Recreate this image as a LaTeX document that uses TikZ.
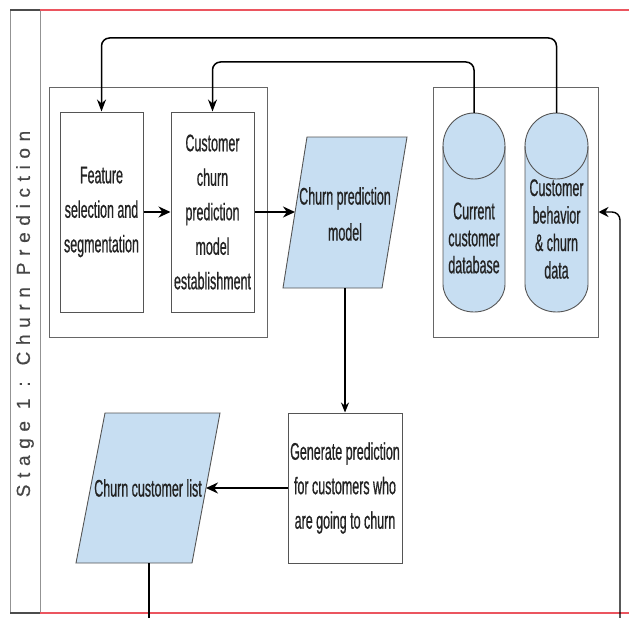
\documentclass[tikz,border=0pt]{standalone}
\usepackage{fontspec}
\setmainfont{Liberation Sans}
\newfontfamily\nf[FakeStretch=0.52,FakeBold=0.6]{Liberation Sans}
\newfontfamily\stagefont[LetterSpace=35,FakeBold=0.4]{Liberation Sans}
\usetikzlibrary{arrows.meta}
\definecolor{fillblue}{RGB}{199,222,242}
\definecolor{lanered}{RGB}{235,85,95}
\definecolor{txt}{RGB}{35,35,35}
\definecolor{edge}{RGB}{85,85,85}
\tikzset{
  grp/.style={draw=edge!90, line width=1pt, inner sep=0pt},
  procbox/.style={draw=edge, line width=1pt, fill=white, align=center, inner sep=0pt,
    font=\nf\fontsize{24}{34.5}\selectfont, text=txt},
  lbl/.style={align=center, inner sep=0pt, text=txt},
  shapefill/.style={draw=edge, line width=0.9pt, fill=fillblue},
  arr/.style={-{Stealth[length=12pt,width=11pt]}, line width=2pt, black},
  toparr/.style={-{Stealth[length=12pt,width=9pt]}, line width=1.5pt, black, rounded corners=8pt},
  thinarr/.style={-{Stealth[length=10pt,width=8pt]}, line width=1.1pt, black},
  plain/.style={line width=1.1pt, black},
  lanegray/.style={draw=gray!85, line width=1pt},
  lanedark/.style={draw=gray!60!black, line width=2pt},
  lanered/.style={draw=lanered, line width=2pt}
}
\begin{document}
\begin{tikzpicture}[x=1pt,y=1pt]
\useasboundingbox (0,0) rectangle (629,-618);
% lane frame
\draw[lanegray] (10,-10) -- (10,-613);
\draw[lanegray] (40,-10) -- (40,-613);
\draw[lanedark] (10,-10) -- (40,-10);
\draw[lanedark] (10,-613) -- (40,-613);
\draw[lanered] (40,-10) -- (629,-10);
\draw[lanered] (40,-613) -- (629,-613);
\node[rotate=90, text=gray!55!black, inner sep=0pt] (stage) at (25,-314)
  {\stagefont\fontsize{19}{21}\selectfont Stage 1 : Churn Prediction};

% group boxes
\node[grp, minimum width=218pt, minimum height=250pt] (lgrp) at (158,-212) {};
\node[grp, minimum width=165pt, minimum height=250pt] (rgrp) at (515.5,-212) {};

% process boxes
\node[procbox, minimum width=83pt, minimum height=200pt] (feat) at (101.5,-212)
  {Feature\\selection and\\segmentation};
\node[procbox, minimum width=83pt, minimum height=200pt] (cust) at (212.5,-212)
  {Customer\\churn\\prediction\\model\\establishment};
\node[procbox, minimum width=114pt, minimum height=150pt] (gen) at (345,-488)
  {Generate prediction\\for customers who\\are going to churn};

% parallelogram: churn prediction model
\draw[shapefill] (307,-137) -- (407,-137) -- (382,-288) -- (283,-288) -- cycle;
\node[lbl, font=\nf\fontsize{24}{36}\selectfont] (pm) at (345,-214) {Churn prediction\\model};
\coordinate (pmin) at (295,-212);
\coordinate (pmbot) at (345,-288);

% parallelogram: churn customer list
\draw[shapefill] (105,-413) -- (220,-413) -- (192,-563) -- (76,-563) -- cycle;
\node[lbl, font=\nf\fontsize{24}{30}\selectfont] (cl) at (148,-488) {Churn customer list};
\coordinate (clin) at (206,-488);
\coordinate (clbot) at (149,-563);
\coordinate (clend) at (149,-618);

% cylinders
\draw[shapefill] (443,-146) -- (443,-284) arc[start angle=180,end angle=360,x radius=31,y radius=28]
  -- (505,-146) arc[start angle=0,end angle=180,x radius=31,y radius=33] -- cycle;
\draw[draw=edge, line width=0.9pt] (443,-146) arc[start angle=180,end angle=360,x radius=31,y radius=33];
\node[lbl, font=\nf\fontsize{24}{27}\selectfont] (cyl1) at (474,-238) {Current\\customer\\database};
\coordinate (cyl1top) at (474,-113);

\draw[shapefill] (525,-146) -- (525,-284) arc[start angle=180,end angle=360,x radius=31.5,y radius=28]
  -- (588,-146) arc[start angle=0,end angle=180,x radius=31.5,y radius=33] -- cycle;
\draw[draw=edge, line width=0.9pt] (525,-146) arc[start angle=180,end angle=360,x radius=31.5,y radius=33];
\node[lbl, font=\nf\fontsize{24}{27.5}\selectfont] (cyl2) at (556.5,-229) {Customer\\behavior\\\& churn\\data};
\coordinate (cyl2top) at (556.5,-113);

% connectors
\draw[toparr] (cyl2top) -- ++(0,75) -| (feat.north);
\draw[toparr] (cyl1top) -- ++(0,51) -| (cust.north);
\draw[arr] (feat.east) -- (cust.west);
\draw[arr] (cust.east) -- (pmin);
\draw[thinarr] (pmbot) -- (gen.north);
\draw[arr] (gen.west) -- (clin);
\draw[plain] (clbot) -- (clend);
\coordinate (rin) at (620,-618);
\draw[thinarr, line width=1.4pt, -{Stealth[length=10pt,width=10pt]}, rounded corners=8pt] (rin) |- (rgrp.east);
\end{tikzpicture}
\end{document}
